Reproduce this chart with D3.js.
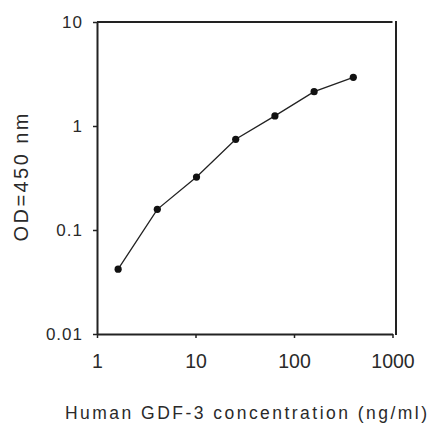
<!DOCTYPE html>
<html>
<head>
<meta charset="utf-8">
<script src="https://cdn.jsdelivr.net/npm/d3@7"></script>
<style>
  html, body { margin: 0; padding: 0; background: #fff; }
  svg { display: block; }
  text { font-family: "Liberation Sans", Arial, sans-serif; fill: #2a2a2a; }
</style>
</head>
<body>
<svg id="chart" width="433" height="428"></svg>
<script>
const concentrations = [1.6384, 4.096, 10.24, 25.6, 64, 160, 400];
const odValues = [0.042, 0.158, 0.323, 0.745, 1.25, 2.14, 2.94];
const xTicks = [1, 10, 100, 1000];
const yTicks = [0.01, 0.1, 1, 10];
const xTickLabels = ["1", "10", "100", "1000"];
const yTickLabels = ["0.01", "0.1", "1", "10"];
const xTitle = "Human GDF-3 concentration (ng/ml)";
const yTitle = "OD=450 nm";

const svg = d3.select("#chart");
const pLeft = 97, pRight = 392.5, pTop = 22, pBottom = 334;

const x = d3.scaleLog().domain([1, 1000]).range([pLeft, pRight]);
const y = d3.scaleLog().domain([0.01, 10]).range([pBottom, pTop]);

// frame: top and right lines
svg.append("line").attr("x1", pLeft).attr("x2", pRight).attr("y1", pTop).attr("y2", pTop)
  .attr("stroke", "#222").attr("stroke-width", 2);
svg.append("line").attr("x1", 396).attr("x2", 396).attr("y1", pTop - 1).attr("y2", pBottom + 1)
  .attr("stroke", "#222").attr("stroke-width", 2);

// x axis
const xAxis = svg.append("g").attr("transform", `translate(0,${pBottom})`)
  .call(d3.axisBottom(x).tickValues(xTicks).tickFormat((d, i) => xTickLabels[i]).tickSize(4).tickSizeOuter(0));
// y axis
const yAxis = svg.append("g").attr("transform", `translate(${pLeft},0)`)
  .call(d3.axisLeft(y).tickValues(yTicks).tickFormat((d, i) => yTickLabels[i]).tickSize(4).tickSizeOuter(0));

[xAxis, yAxis].forEach(g => {
  g.select(".domain").attr("stroke", "#222").attr("stroke-width", 2);
  g.selectAll(".tick line").attr("stroke", "#222").attr("stroke-width", 1.5);
  g.selectAll(".tick text").style("font-family", '"Liberation Sans", Arial, sans-serif')
    .attr("fill", "#2a2a2a");
});
xAxis.selectAll(".tick text").attr("y", 20).style("font-size", "19.5px");
yAxis.selectAll(".tick text").attr("x", -14).attr("dy", "0.35em")
  .style("font-size", "17px").style("letter-spacing", "1px");

// line
const line = d3.line().x((d, i) => x(concentrations[i])).y(d => y(d));
svg.append("path").datum(odValues).attr("d", line)
  .attr("fill", "none").attr("stroke", "#222").attr("stroke-width", 1.3);

// points
svg.selectAll("circle.pt").data(odValues).enter().append("circle")
  .attr("class", "pt")
  .attr("cx", (d, i) => x(concentrations[i])).attr("cy", d => y(d))
  .attr("r", 3.6).attr("fill", "#111");

// titles
svg.append("text").attr("x", 65).attr("y", 419)
  .attr("textLength", 362).attr("lengthAdjust", "spacing")
  .style("font-size", "17.5px").text(xTitle);

svg.append("text").attr("transform", "translate(28,177.5) rotate(-90)")
  .attr("text-anchor", "middle")
  .attr("textLength", 128).attr("lengthAdjust", "spacing")
  .style("font-size", "20px").text(yTitle);
</script>
</body>
</html>
